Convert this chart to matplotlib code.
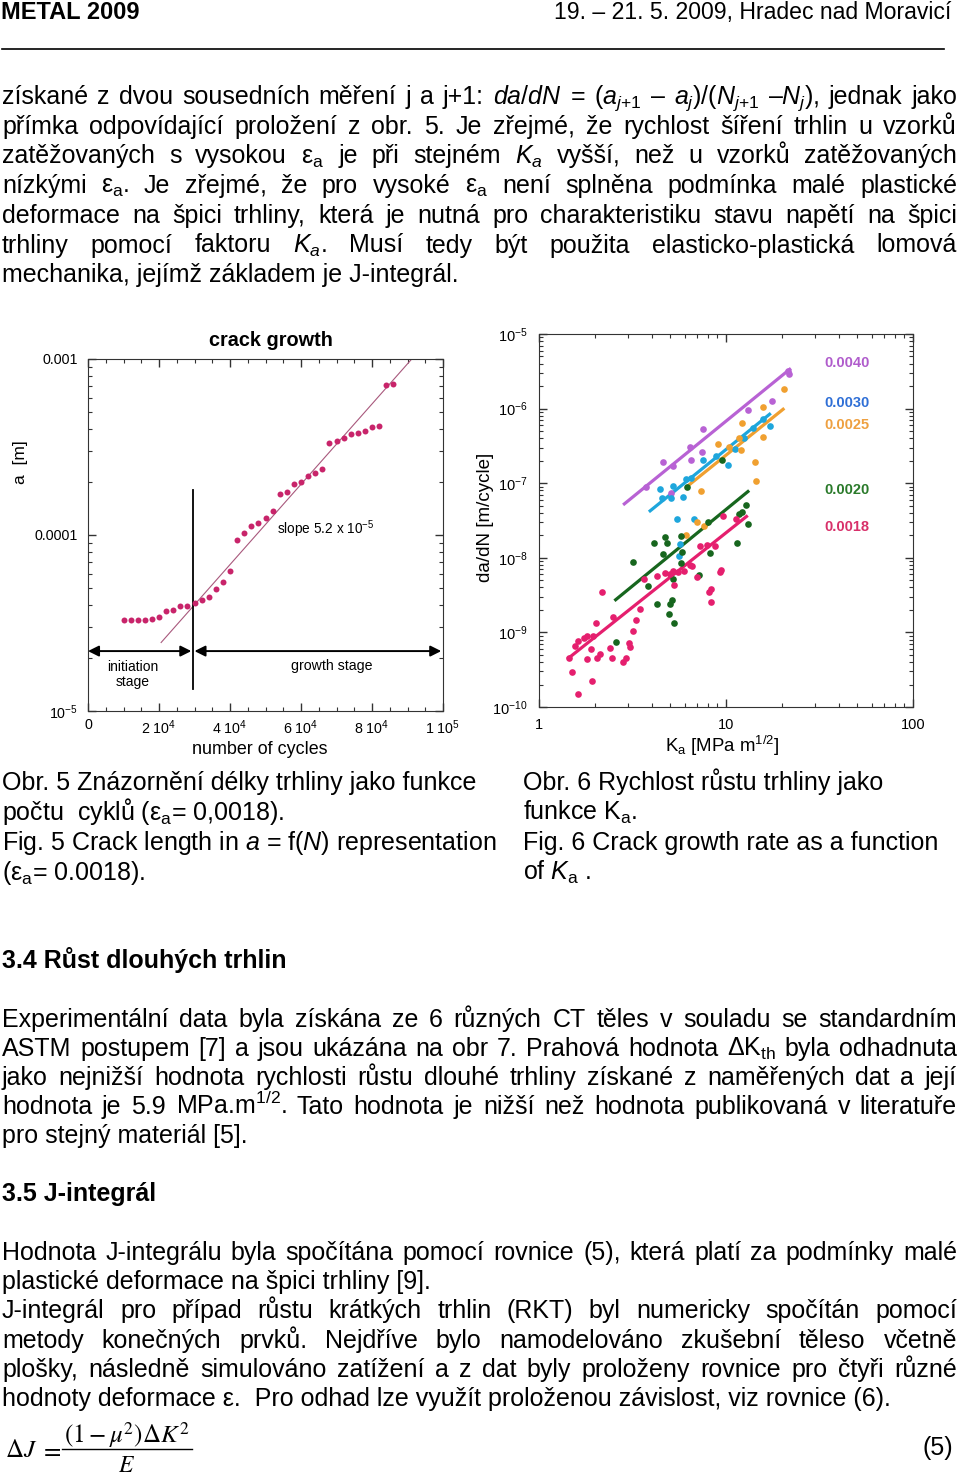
import matplotlib
matplotlib.use("Agg")
import matplotlib.pyplot as plt
from matplotlib.ticker import LogLocator, MultipleLocator, NullFormatter

plt.rcParams["font.family"] = ["Liberation Sans", "DejaVu Sans"]
plt.rcParams["mathtext.fontset"] = "custom"
plt.rcParams["mathtext.rm"] = "Liberation Sans"
plt.rcParams["mathtext.it"] = "Liberation Sans:italic"
plt.rcParams["mathtext.bf"] = "Liberation Sans:bold"

W, H = 960, 1477
BODY = 18

# --- Fig. 5: crack length vs number of cycles (eps_a = 0.0018) ---
cycles = [10000, 12000, 14000, 16000, 18000, 20000, 22000, 24000, 26000, 28000,
          30000, 32000, 34000, 36000, 38000, 40000, 42000, 44000, 46000, 48000,
          50000, 52000, 54000, 56000, 58000, 60000, 62000, 64000, 66000, 68000,
          70000, 72000, 74000, 76000, 78000, 80000, 82000, 84000, 86000]
crack_a = [3.29e-5, 3.29e-5, 3.29e-5, 3.29e-5, 3.33e-5, 3.44e-5, 3.72e-5, 3.73e-5, 3.95e-5, 3.95e-5,
           4.13e-5, 4.27e-5, 4.46e-5, 4.95e-5, 5.38e-5, 6.25e-5, 9.37e-5, 1.03e-4, 1.125e-4, 1.175e-4,
           1.245e-4, 1.36e-4, 1.72e-4, 1.76e-4, 1.94e-4, 1.99e-4, 2.17e-4, 2.26e-4, 2.37e-4, 3.35e-4,
           3.44e-4, 3.54e-4, 3.73e-4, 3.80e-4, 3.90e-4, 4.09e-4, 4.16e-4, 7.08e-4, 7.18e-4]
fit_cycles = [20600, 91200]
fit_a = [2.45e-5, 1.0e-3]
stage_boundary = 29500
stage_line_a = [1.33e-5, 1.80e-4]
arrow_a = 2.19e-5
cycle_ticks = [0, 20000, 40000, 60000, 80000, 100000]
cycle_labels = ["0", "2 10$^{4}$", "4 10$^{4}$", "6 10$^{4}$", "8 10$^{4}$", "1 10$^{5}$"]
a_ticks = [1e-5, 1e-4, 1e-3]
a_labels = ["10$^{-5}$", "0.0001", "0.001"]

# --- Fig. 6: da/dN vs K_a for five strain amplitudes ---
strains = ["0.0040", "0.0030", "0.0025", "0.0020", "0.0018"]
k_0040 = [3.73, 4.58, 5.22, 6.41, 7.49, 7.40, 6.46, 5.05, 13.1, 17.6, 21.8, 21.5]
r_0040 = [8.84e-8, 1.95e-7, 1.72e-7, 3.10e-7, 5.29e-7, 2.60e-7, 2.05e-7, 7.50e-8, 9.5e-7, 1.27e-6,
          2.91e-6, 3.23e-6]
k_0030 = [4.43, 4.52, 5.18, 5.07, 5.86, 6.10, 6.46, 7.49, 8.79, 10.27, 11.24, 12.45, 13.97, 15.8,
          17.15, 5.44, 6.76, 5.71, 5.62]
r_0030 = [8.31e-8, 6.30e-8, 9.31e-8, 6.36e-8, 6.56e-8, 1.13e-7, 1.17e-7, 2.03e-7, 2.30e-7, 1.74e-7,
          2.85e-7, 4.05e-7, 5.45e-7, 7.2e-7, 5.86e-7, 3.33e-8, 3.33e-8, 1.52e-8, 1.06e-8]
k_0025 = [9.08, 10.4, 12.25, 12.1, 11.7, 15.7, 15.8, 14.3, 14.4, 7.31, 20.4, 6.10, 6.96, 7.61]
r_0025 = [3.33e-7, 3.10e-7, 6.49e-7, 2.80e-7, 4.0e-7, 1.06e-6, 4.22e-7, 1.93e-7, 1.07e-7, 7.89e-8,
          1.83e-6, 2.01e-8, 3.0e-8, 2.63e-8]
k_0020 = [6.20, 9.54, 3.18, 4.13, 4.69, 4.81, 4.58, 5.74, 5.83, 5.18, 5.74, 3.84, 4.25, 5.01, 5.12,
          4.95, 5.29, 2.57, 7.13, 8.03, 8.26, 11.4, 11.7, 12.25, 12.8, 13.1]
r_0020 = [8.93e-8, 2.03e-7, 8.84e-9, 1.57e-8, 1.89e-8, 1.56e-8, 1.11e-8, 1.99e-8, 1.20e-8, 5.23e-9,
          8.49e-9, 4.22e-9, 2.39e-9, 2.39e-9, 2.68e-9, 1.78e-9, 1.35e-9, 7.43e-10, 5.92e-9, 3.0e-8,
          1.17e-8, 1.60e-8, 3.92e-8, 4.05e-8, 5.18e-8, 2.82e-8]
k_0018 = [1.453, 1.557, 1.623, 1.740, 1.797, 1.951, 1.888, 1.797, 1.507, 1.616,
          1.920, 2.050, 2.118, 2.016, 2.162, 2.395, 2.445, 2.496, 2.822, 2.916,
          3.063, 3.038, 3.166, 3.299, 3.464, 3.654, 4.253, 4.712, 5.011, 5.221,
          5.553, 5.953, 6.410, 6.596, 5.264, 6.957, 7.248, 7.866, 8.716, 8.266,
          8.132, 8.299, 9.27, 9.46, 9.66, 11.29]
r_0018 = [4.53e-10, 6.63e-10, 7.58e-10, 8.40e-10, 8.84e-10, 9.02e-10, 5.98e-10, 4.40e-10, 2.94e-10, 1.49e-10,
          2.23e-10, 4.53e-10, 5.18e-10, 1.33e-9, 3.43e-9, 6.17e-10, 4.53e-10, 1.59e-9, 3.96e-10, 4.53e-10,
          6.30e-10, 7.20e-10, 1.03e-9, 1.48e-9, 2.05e-9, 5.18e-9, 5.62e-9, 6.23e-9, 6.10e-9, 6.70e-9,
          6.37e-9, 6.70e-9, 7.89e-9, 7.66e-9, 4.31e-9, 5.57e-9, 1.42e-8, 1.48e-8, 1.42e-8, 3.80e-9,
          3.51e-9, 2.52e-9, 6.37e-9, 6.76e-9, 3.58e-8, 3.36e-8]
fit_k = [[2.86, 21.9], [3.93, 17.1], [6.28, 20.2], [2.57, 13.1], [1.44, 12.87]]
fit_r = [[5.28e-8, 3.36e-6], [4.26e-8, 8.4e-7], [9.3e-8, 9.8e-7], [2.74e-9, 7.73e-8], [4.53e-10, 3.58e-8]]
k_ticks = [1, 10, 100]
k_labels = ["1", "10", "100"]
rate_ticks = [1e-10, 1e-9, 1e-8, 1e-7, 1e-6, 1e-5]
rate_labels = ["10$^{-10}$", "10$^{-9}$", "10$^{-8}$", "10$^{-7}$", "10$^{-6}$", "10$^{-5}$"]

LINE_COLORS = ["#b862d4", "#1ea6dc", "#f0a030", "#17661e", "#e51f6e"]
LABEL_COLORS = ["#b05ccc", "#2f6fd6", "#eea040", "#2a7a2a", "#d8306a"]
LABEL_Y = [363, 403, 425, 490, 527]

# --- page text ---
para1 = [
    "získané z dvou sousedních měření j a j+1: $da/dN$ = $(a_{j{+}1}$ – $a_{j})/(N_{j{+}1}$ –$N_{j}$), jednak jako",
    "přímka odpovídající proložení z obr. 5. Je zřejmé, že rychlost šíření trhlin u vzorků",
    "zatěžovaných s vysokou ε$_\\mathrm{a}$ je při stejném $K_a$ vyšší, než u vzorků zatěžovaných",
    "nízkými ε$_\\mathrm{a}$. Je zřejmé, že pro vysoké ε$_\\mathrm{a}$ není splněna podmínka malé plastické",
    "deformace na špici trhliny, která je nutná pro charakteristiku stavu napětí na špici",
    "trhliny pomocí faktoru $K_a$. Musí tedy být použita elasticko-plastická lomová",
    "mechanika, jejímž základem je J-integrál.",
]
cap_left = [
    "Obr. 5 Znázornění délky trhliny jako funkce",
    "počtu  cyklů (ε$_\\mathrm{a}$= 0,0018).",
    "Fig. 5 Crack length in $a$ = f($N$) representation",
    "(ε$_\\mathrm{a}$= 0.0018).",
]
cap_right = [
    "Obr. 6 Rychlost růstu trhliny jako",
    "funkce K$_\\mathrm{a}$.",
    "Fig. 6 Crack growth rate as a function",
    "of $K_\\mathrm{a}$ .",
]
para2 = [
    "Experimentální data byla získána ze 6 různých CT těles v souladu se standardním",
    "ASTM postupem [7] a jsou ukázána na obr 7. Prahová hodnota ΔK$_\\mathrm{th}$ byla odhadnuta",
    "jako nejnižší hodnota rychlosti růstu dlouhé trhliny získané z naměřených dat a její",
    "hodnota je 5.9 MPa.m$^\\mathrm{1/2}$. Tato hodnota je nižší než hodnota publikovaná v literatuře",
    "pro stejný materiál [5].",
]
para3 = [
    "Hodnota J-integrálu byla spočítána pomocí rovnice (5), která platí za podmínky malé",
    "plastické deformace na špici trhliny [9].",
    "J-integrál pro případ růstu krátkých trhlin (RKT) byl numericky spočítán pomocí",
    "metody konečných prvků. Nejdříve bylo namodelováno zkušební těleso včetně",
    "plošky, následně simulováno zatížení a z dat byly proloženy rovnice pro čtyři různé",
    "hodnoty deformace ε.  Pro odhad lze využít proloženou závislost, viz rovnice (6).",
]
para3_justified = [True, False, True, True, True, False]

fig = plt.figure(figsize=(W / 100, H / 100), dpi=100)
fig.patch.set_facecolor("white")
page = fig.add_axes([0, 0, 1, 1], zorder=0)
page.set_xlim(0, W)
page.set_ylim(H, 0)
page.axis("off")
renderer = fig.canvas.get_renderer()


def body_line(s, y, x0=2, x1=957, justify=True, size=BODY, weight="normal"):
    if not justify:
        page.text(x0, y, s, fontsize=size, fontweight=weight, va="baseline", ha="left")
        return
    words = s.split(" ")
    arts = [page.text(0, y, w, fontsize=size, va="baseline", ha="left") for w in words]
    widths = [a.get_window_extent(renderer).width for a in arts]
    gap = (x1 - x0 - sum(widths)) / (len(words) - 1)
    x = x0
    for a, w in zip(arts, widths):
        a.set_x(x)
        x += w + gap


# header
page.text(1, 19, "METAL 2009", fontsize=17, fontweight="bold", va="baseline")
page.text(951, 19, "19. – 21. 5. 2009, Hradec nad Moravicí", fontsize=16.6, va="baseline", ha="right")
page.plot([2, 944], [49, 49], color="black", lw=1.2)

for i, s in enumerate(para1):
    body_line(s, 104 + 29.7 * i, justify=i < len(para1) - 1)
for i, s in enumerate(cap_left):
    body_line(s, 790 + 30 * i, justify=False)
for i, s in enumerate(cap_right):
    body_line(s, 790 + 30 * i, x0=523, justify=False)

body_line("3.4 Růst dlouhých trhlin", 968, justify=False, weight="bold")
for i, s in enumerate(para2):
    body_line(s, 1027 + 29.1 * i, justify=i < len(para2) - 1)
body_line("3.5 J-integrál", 1201, justify=False, weight="bold")
for i, s in enumerate(para3):
    body_line(s, 1260 + 29.2 * i, justify=para3_justified[i])

# equation (5)
page.text(5, 1457, r"$\Delta J$", fontsize=18, math_fontfamily="stix", va="baseline")
page.text(40, 1457, r"$=$", fontsize=18, math_fontfamily="stix", va="baseline")
page.text(127, 1443, r"$(1-\mu^{2})\Delta K^{2}$", fontsize=18, math_fontfamily="stix",
          va="baseline", ha="center")
page.plot([62, 192], [1449, 1449], color="black", lw=1.0)
page.text(127, 1472, r"$E$", fontsize=17, math_fontfamily="stix", va="baseline", ha="center")
page.text(953, 1455, "(5)", fontsize=BODY, va="baseline", ha="right")

# --- left chart ---
ax1 = fig.add_axes([88 / W, 1 - 711 / H, 355 / W, 352 / H], zorder=1)
ax1.patch.set_visible(False)
ax1.plot(cycles, crack_a, "o", color="#c8246a", ms=4.3, mec="none", zorder=3)
ax1.plot(fit_cycles, fit_a, color="#a8587c", lw=0.8, zorder=2)
ax1.plot([stage_boundary, stage_boundary], stage_line_a, color="black", lw=1.3)
ax1.annotate("", xy=(0, arrow_a), xytext=(stage_boundary - 400, arrow_a),
             arrowprops=dict(arrowstyle="<|-|>", color="black", lw=1.4, mutation_scale=16,
                             shrinkA=0, shrinkB=0))
ax1.annotate("", xy=(stage_boundary + 500, arrow_a), xytext=(99500, arrow_a),
             arrowprops=dict(arrowstyle="<|-|>", color="black", lw=1.4, mutation_scale=16,
                             shrinkA=0, shrinkB=0))
ax1.text(12600, 1.61e-5, "initiation\nstage", fontsize=10, ha="center", va="center", linespacing=1.1)
ax1.text(68800, 1.80e-5, "growth stage", fontsize=10.2, ha="center", va="center")
ax1.text(53200, 1.08e-4, "slope 5.2 x 10$^{-5}$", fontsize=9.8, ha="left", va="center")
ax1.set_yscale("log")
ax1.set_xlim(0, 100000)
ax1.set_ylim(1e-5, 1e-3)
ax1.set_xticks(cycle_ticks)
ax1.set_xticklabels(cycle_labels)
ax1.xaxis.set_minor_locator(MultipleLocator(5000))
ax1.set_yticks(a_ticks)
ax1.set_yticklabels(a_labels)
ax1.yaxis.set_minor_locator(LogLocator(subs=range(2, 10)))
ax1.yaxis.set_minor_formatter(NullFormatter())
ax1.tick_params(which="both", direction="in", top=True, right=True, labelsize=10.3, color="#333333")
ax1.tick_params(which="major", length=6, width=1)
ax1.tick_params(axis="y", which="major", pad=7)
ax1.tick_params(axis="x", which="major", pad=5)
ax1.tick_params(which="minor", length=3, width=0.8)
for sp in ax1.spines.values():
    sp.set_color("#333333")
page.text(271, 340, "crack growth", fontsize=14.3, fontweight="bold", ha="center", va="center")
page.text(21, 462, "a  [m]", fontsize=12.5, rotation=90, ha="center", va="center")
page.text(260, 749, "number of cycles", fontsize=12.9, ha="center", va="center")

# --- right chart ---
ax2 = fig.add_axes([539 / W, 1 - 707 / H, 374 / W, 373 / H], zorder=1)
ax2.patch.set_visible(False)
series = [(k_0040, r_0040), (k_0030, r_0030), (k_0025, r_0025), (k_0020, r_0020), (k_0018, r_0018)]
for (ks, rs), fk, fr, col in zip(series, fit_k, fit_r, LINE_COLORS):
    ax2.plot(ks, rs, "o", color=col, ms=4.8, mec="none", zorder=3)
    ax2.plot(fk, fr, color=col, lw=2.3, zorder=2)
ax2.set_xscale("log")
ax2.set_yscale("log")
ax2.set_xlim(1, 100)
ax2.set_ylim(1e-10, 1e-5)
ax2.set_xticks(k_ticks)
ax2.set_xticklabels(k_labels)
ax2.set_yticks(rate_ticks)
ax2.set_yticklabels(rate_labels)
ax2.xaxis.set_minor_locator(LogLocator(subs=range(2, 10)))
ax2.yaxis.set_minor_locator(LogLocator(subs=range(2, 10)))
ax2.xaxis.set_minor_formatter(NullFormatter())
ax2.yaxis.set_minor_formatter(NullFormatter())
ax2.tick_params(which="both", direction="in", top=True, right=True, labelsize=10.5, color="#333333")
ax2.tick_params(which="major", length=6, width=1, pad=8)
ax2.tick_params(which="minor", length=3, width=0.8)
for sp in ax2.spines.values():
    sp.set_color("#333333")
for lab, col, y in zip(strains, LABEL_COLORS, LABEL_Y):
    page.text(847, y, lab, fontsize=10.5, fontweight="bold", color=col, ha="center", va="center")
page.text(486, 517, "da/dN [m/cycle]", fontsize=13.5, rotation=90, ha="center", va="center")
page.text(722, 746, "K$_\\mathrm{a}$ [MPa m$^\\mathrm{1/2}$]", fontsize=13.4, ha="center", va="center")

fig.savefig("out.png", dpi=100, facecolor="white")
